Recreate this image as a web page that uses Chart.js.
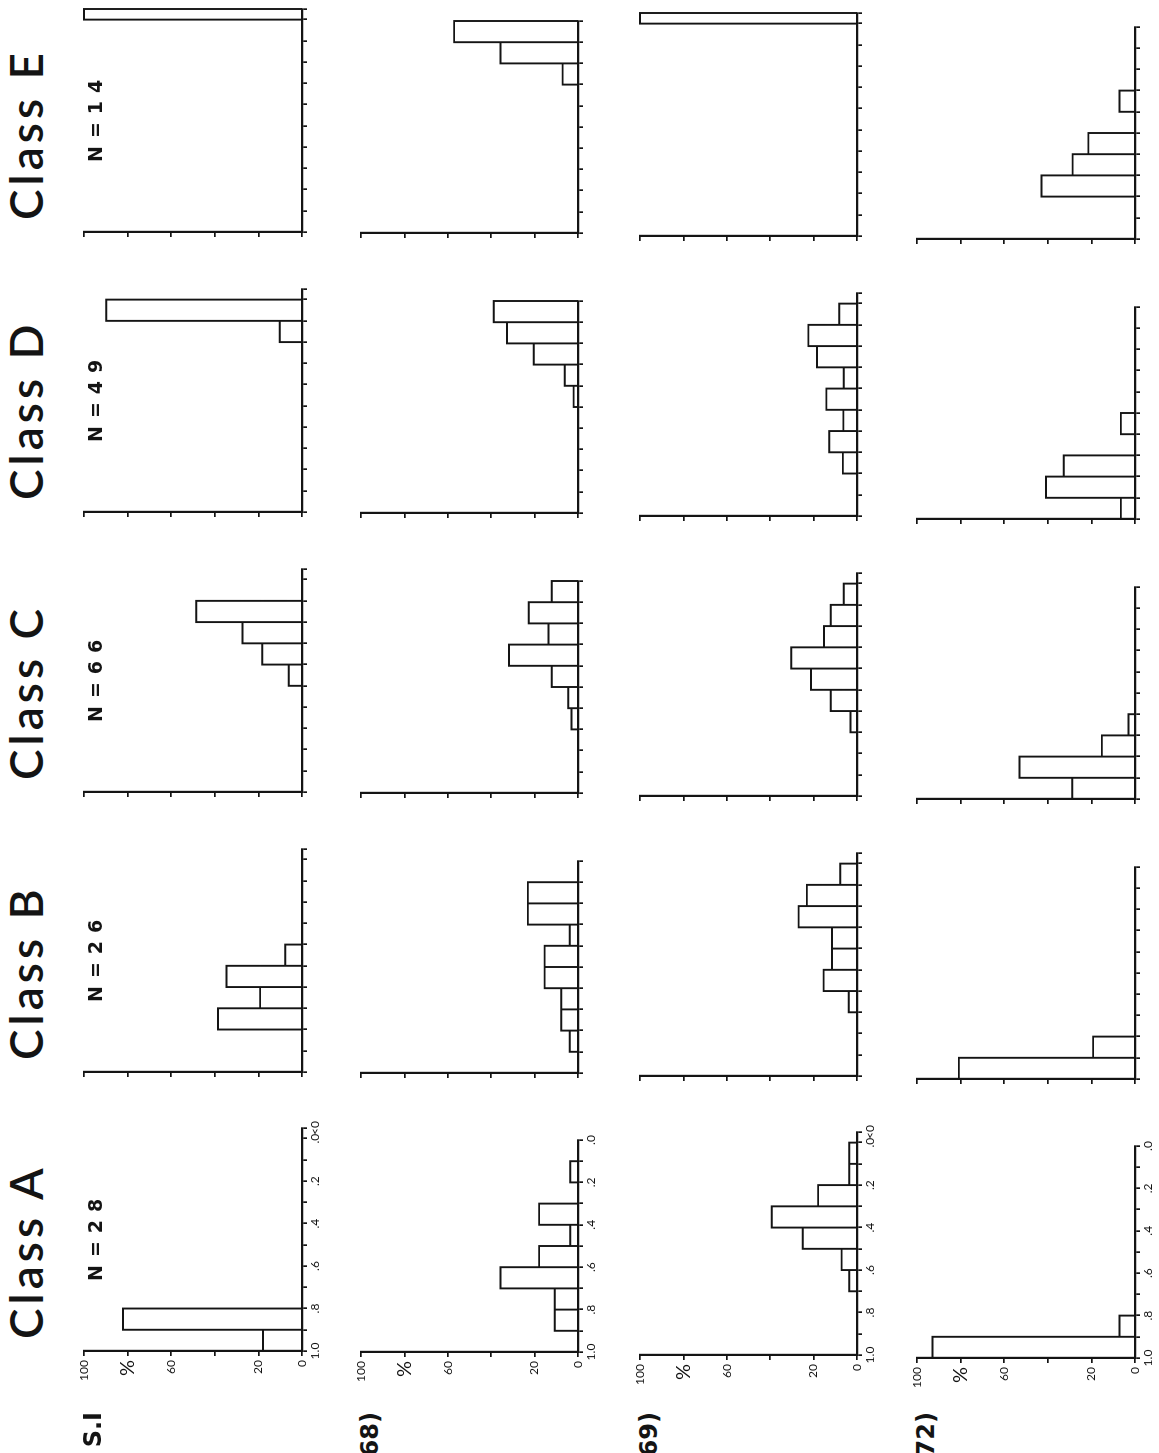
<!DOCTYPE html>
<html>
<head>
<meta charset="utf-8">
<script src="https://cdn.jsdelivr.net/npm/chart.js@4.4.1/dist/chart.umd.min.js"></script>
<style>
  html, body { margin: 0; padding: 0; background: #fff; width: 1159px; height: 1453px; overflow: hidden; }
  /* the sheet is laid out landscape and turned a quarter turn counter-clockwise */
  #sheet { position: absolute; left: 0; top: 0; width: 1453px; height: 1159px;
           transform-origin: 0 0; transform: translate(0px, 1453px) rotate(-90deg); background: #fff; }
  #sheet canvas { position: absolute; }
  .cls { position: absolute; font-family: Lato, "DejaVu Sans", sans-serif; font-weight: 600; font-size: 46px; letter-spacing: 4px;
         line-height: 1; color: #141414; white-space: nowrap; }
  .num { position: absolute; font-family: "DejaVu Sans", sans-serif; font-weight: bold; font-size: 19px;
         letter-spacing: 8px; line-height: 1; color: #141414; white-space: nowrap; }
  .row { position: absolute; font-family: "DejaVu Sans", sans-serif; font-weight: bold; font-size: 24px;
         line-height: 1; color: #141414; white-space: nowrap; text-align: right; }
</style>
</head>
<body>
<div id="sheet"></div>
<script>
// Column headings and sample sizes
const classNames  = ['Class A', 'Class B', 'Class C', 'Class D', 'Class E'];
const sampleSizes = ['N=28', 'N=26', 'N=66', 'N=49', 'N=14'];
// Row headings
const rowNames = ['S.I', '(68)', '(69)', '(72)'];

// Bin edges along the index axis (last edge closes the short "below zero" cell)
const binEdges      = [1.0, 0.9, 0.8, 0.7, 0.6, 0.5, 0.4, 0.3, 0.2, 0.1, 0.0, -0.05];
const binTickLabels = ['1.0', '', '.8', '', '.6', '', '.4', '', '.2', '', '.0', '<0'];
// Percent axis
const pctTicks      = [0, 20, 40, 60, 80, 100];
const pctTickLabels = ['0', '20', '', '60', '%', '100'];

// Percent of N per bin, bins ordered 1.0-0.9 ... 0.1-0.0 (S.I and (69) carry an extra below-zero bin)
const classA_SI = [17.9, 82.1, 0, 0, 0, 0, 0, 0, 0, 0, 0];
const classA_68 = [0, 10.7, 10.7, 35.7, 17.9, 3.6, 17.9, 0, 3.6, 0];
const classA_69 = [0, 0, 0, 3.6, 7.1, 25.0, 39.3, 17.9, 3.6, 3.6, 0];
const classA_72 = [92.9, 7.1, 0, 0, 0, 0, 0, 0, 0, 0];

const classB_SI = [0, 0, 38.5, 19.2, 34.6, 7.7, 0, 0, 0, 0, 0];
const classB_68 = [0, 3.8, 7.7, 7.7, 15.4, 15.4, 3.8, 23.1, 23.1, 0];
const classB_69 = [0, 0, 0, 3.8, 15.4, 11.5, 11.5, 26.9, 23.1, 7.7, 0];
const classB_72 = [80.8, 19.2, 0, 0, 0, 0, 0, 0, 0, 0];

const classC_SI = [0, 0, 0, 0, 0, 6.1, 18.2, 27.3, 48.5, 0, 0];
const classC_68 = [0, 0, 0, 3.0, 4.5, 12.1, 31.8, 13.6, 22.7, 12.1];
const classC_69 = [0, 0, 0, 3.0, 12.1, 21.2, 30.3, 15.2, 12.1, 6.1, 0];
const classC_72 = [28.8, 53.0, 15.2, 3.0, 0, 0, 0, 0, 0, 0];

const classD_SI = [0, 0, 0, 0, 0, 0, 0, 0, 10.2, 89.8, 0];
const classD_68 = [0, 0, 0, 0, 0, 2.0, 6.1, 20.4, 32.7, 38.8];
const classD_69 = [0, 0, 6.5, 12.8, 6.3, 14.1, 6.1, 18.4, 22.4, 8.2, 0];
const classD_72 = [6.5, 40.8, 32.7, 0, 6.5, 0, 0, 0, 0, 0];

const classE_SI = [0, 0, 0, 0, 0, 0, 0, 0, 0, 0, 100];
const classE_68 = [0, 0, 0, 0, 0, 0, 0, 7.1, 35.7, 57.1];
const classE_69 = [0, 0, 0, 0, 0, 0, 0, 0, 0, 0, 100];
const classE_72 = [0, 0, 42.9, 28.6, 21.4, 0, 7.1, 0, 0, 0];

const panels = [
  [classA_SI, classA_68, classA_69, classA_72],
  [classB_SI, classB_68, classB_69, classB_72],
  [classC_SI, classC_68, classC_69, classC_72],
  [classD_SI, classD_68, classD_69, classD_72],
  [classE_SI, classE_68, classE_69, classE_72]
];

// ---- layout of the sheet (landscape pixels) ----
const INK = '#141414';
const colLeft  = [102, 381, 661, 941, 1221];   // x of the 1.0 end for each class
const rowShift = [0, -1.5, -4, -7];            // small drift of each row
const rowTop   = [84, 361, 640, 917];          // y of 100 %
const rowBase  = [302, 578, 857, 1135];        // y of 0 %
const unitPx   = 212;                          // pixels per 1.0 of index
const AXIS_W = 50, AXIS_H = 30, PAD_T = 12, PAD_R = 14;

Chart.defaults.font.family = 'Lato, "DejaVu Sans", sans-serif';
Chart.defaults.color = INK;

const sheet = document.getElementById('sheet');

// closed outline of every non-empty bin, separated by gaps
function outline(values) {
  const pts = [];
  values.forEach((v, i) => {
    if (!v) return;
    const hi = binEdges[i], lo = binEdges[i + 1];
    pts.push({ x: hi, y: 0 }, { x: hi, y: v }, { x: lo, y: v }, { x: lo, y: 0 }, { x: lo, y: null });
  });
  return pts;
}

function addText(cls, text, left, top, extra) {
  const d = document.createElement('div');
  d.className = cls;
  d.textContent = text;
  d.style.left = left + 'px';
  d.style.top = top + 'px';
  if (extra) Object.assign(d.style, extra);
  sheet.appendChild(d);
}

panels.forEach((rows, c) => {
  rows.forEach((values, r) => {
    const withUnder = values.length === 11;
    const edges = binEdges.slice(0, withUnder ? 12 : 11);
    const lowEnd = edges[edges.length - 1];
    const plotW = unitPx * (1.0 - lowEnd);
    const plotH = rowBase[r] - rowTop[r];
    const x1 = colLeft[c] + rowShift[r];
    const showLabels = c === 0;

    const cv = document.createElement('canvas');
    const w = Math.round(AXIS_W + plotW + PAD_R), h = Math.round(PAD_T + plotH + AXIS_H);
    cv.width = w; cv.height = h;
    cv.style.left = (x1 - AXIS_W) + 'px';
    cv.style.top = (rowTop[r] - PAD_T) + 'px';
    cv.style.width = w + 'px'; cv.style.height = h + 'px';
    sheet.appendChild(cv);

    const tickGrid = { drawOnChartArea: false, drawTicks: true, tickLength: 5, color: INK, lineWidth: 1.7 };
    new Chart(cv, {
      type: 'line',
      data: { datasets: [{
        data: outline(values), borderColor: INK, borderWidth: 1.9, pointRadius: 0,
        tension: 0, fill: false, spanGaps: false, clip: 6
      }] },
      options: {
        responsive: false, animation: false, events: [],
        layout: { padding: { top: PAD_T, right: PAD_R, left: 0, bottom: 0 } },
        plugins: { legend: { display: false }, tooltip: { enabled: false } },
        scales: {
          x: {
            type: 'linear', reverse: true, min: lowEnd, max: 1.0,
            afterBuildTicks: s => { s.ticks = edges.map(v => ({ value: v })); },
            afterFit: s => { s.height = AXIS_H; },
            grid: tickGrid,
            border: { display: true, color: INK, width: 2.2 },
            ticks: { autoSkip: false, maxRotation: 0, minRotation: 0, padding: 1, color: INK,
                     font: { size: 12 }, callback: (v, i) => showLabels ? binTickLabels[i] : '' }
          },
          y: {
            min: 0, max: 100,
            afterBuildTicks: s => { s.ticks = pctTicks.map(v => ({ value: v })); },
            afterFit: s => { s.width = AXIS_W; },
            grid: tickGrid,
            border: { display: true, color: INK, width: 2.2 },
            ticks: { autoSkip: false, padding: 4, color: INK,
                     font: ctx => (ctx.tick && ctx.tick.value === 80) ? { size: 20 } : { size: 12 },
                     callback: (v, i) => showLabels ? pctTickLabels[i] : '' }
          }
        }
      }
    });
  });

  addText('cls', classNames[c], colLeft[c] + 12, 3);
  addText('num', sampleSizes[c], colLeft[c] + 70, 86);
});

rowNames.forEach((name, r) => {
  addText('row', name, 0, rowTop[r] - 3, { left: 'auto', right: (1453 - 41) + 'px' });
});
</script>
</body>
</html>
